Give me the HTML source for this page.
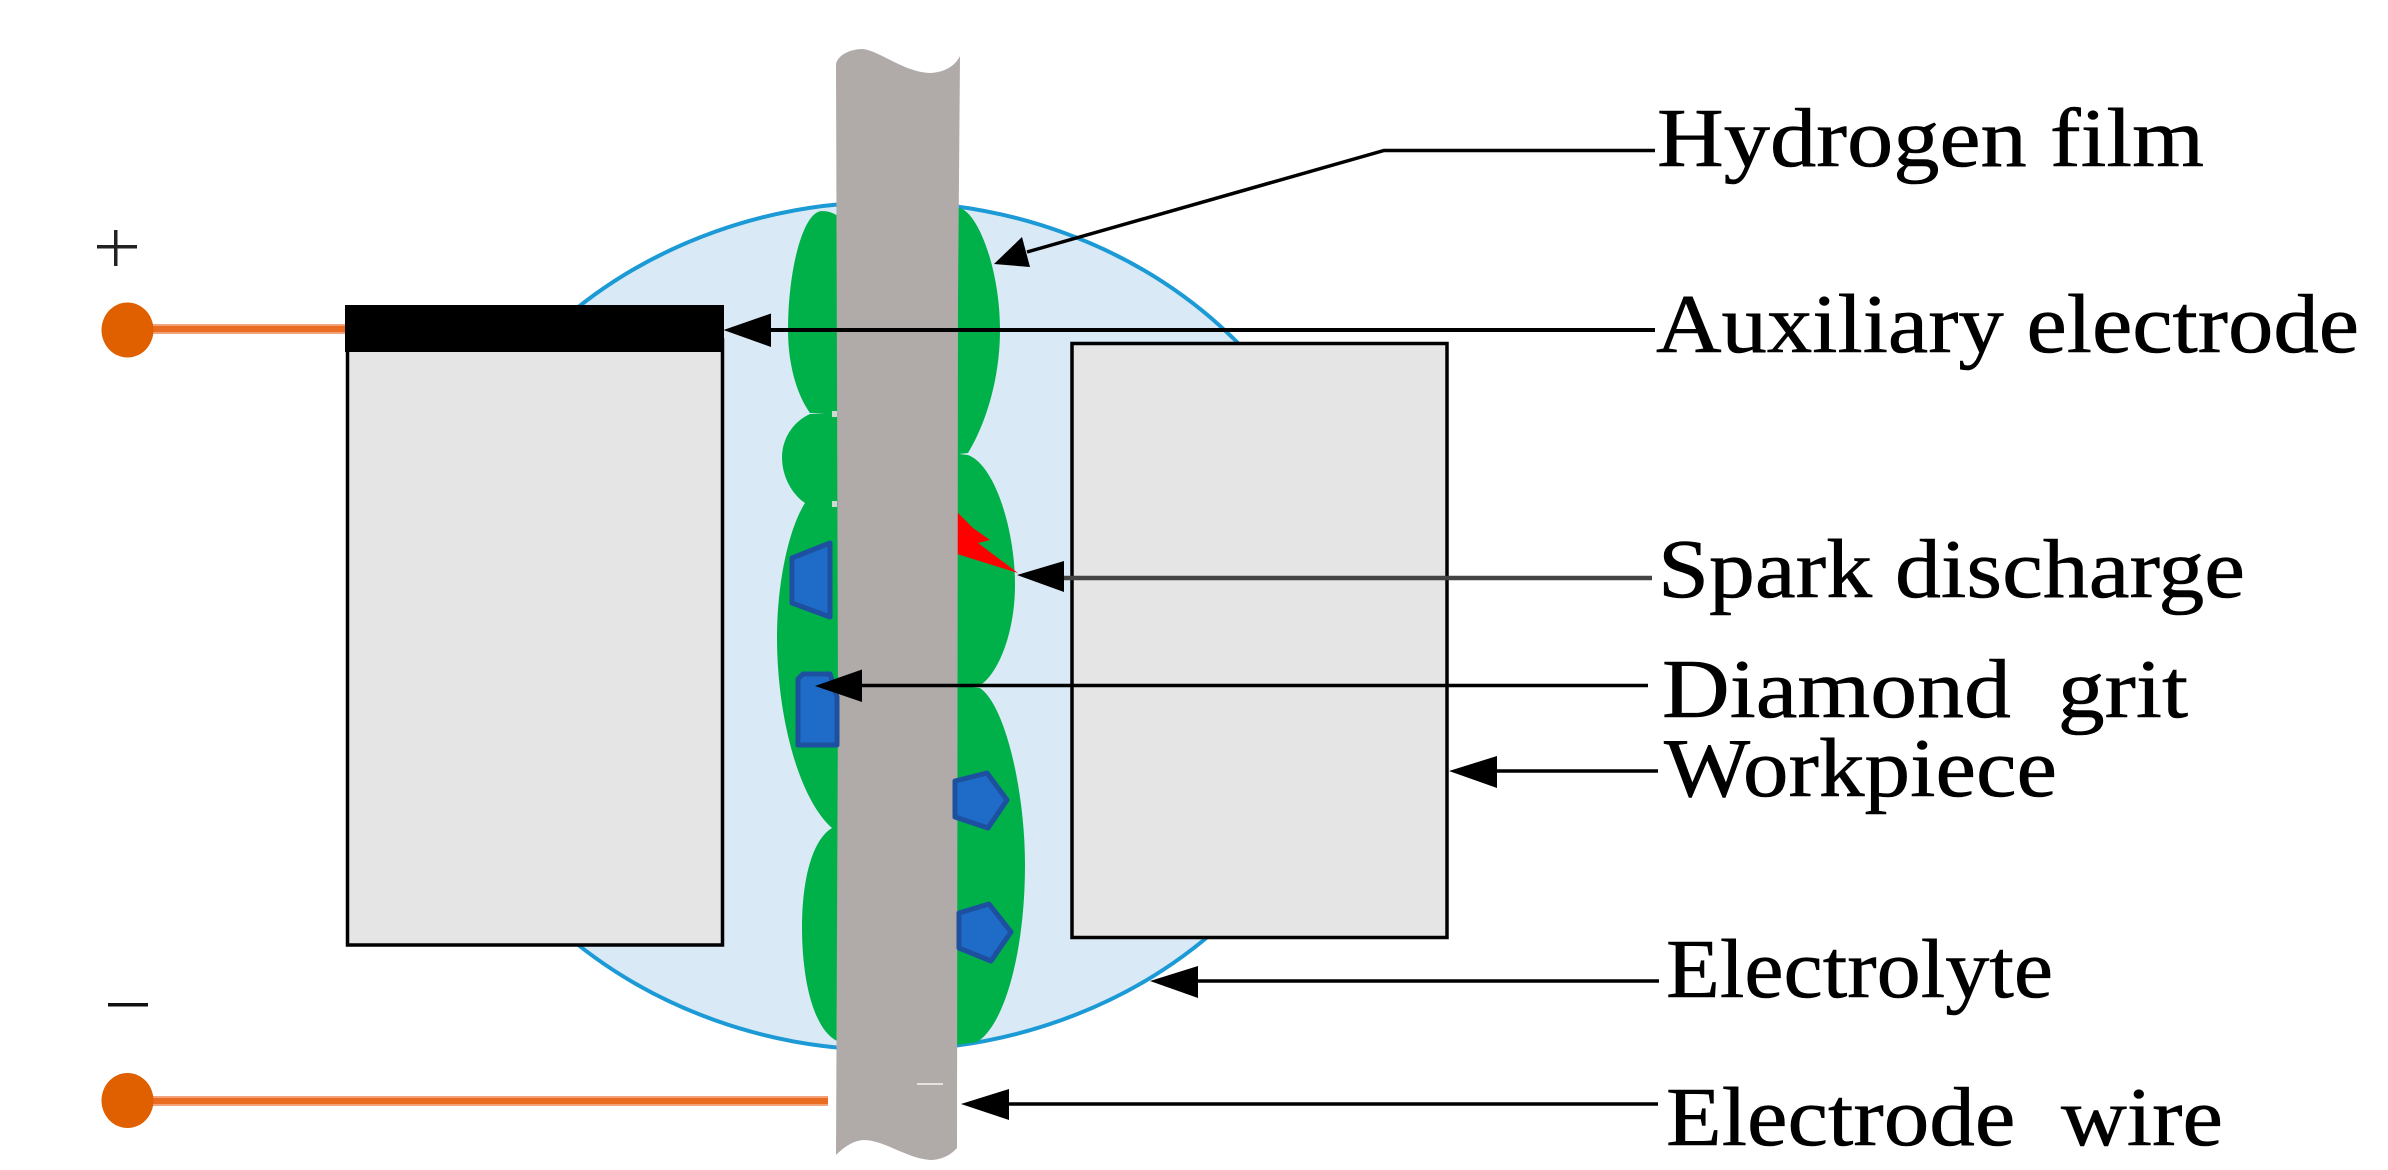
<!DOCTYPE html>
<html>
<head>
<meta charset="utf-8">
<style>
html,body{margin:0;padding:0;background:#fff;width:2388px;height:1170px;overflow:hidden}
svg{display:block}
text{font-family:"Liberation Serif",serif;font-size:84px;fill:#000;stroke:#000;stroke-width:.6px}
</style>
</head>
<body>
<svg width="2388" height="1170" viewBox="0 0 2388 1170" xmlns="http://www.w3.org/2000/svg">
<rect width="2388" height="1170" fill="#fff"/>

<!-- electrolyte -->
<ellipse cx="888" cy="626" rx="470" ry="424" fill="#d9e9f6" stroke="#1b9ad6" stroke-width="4"/>

<!-- hydrogen film -->
<g fill="#00b14a">
<path d="M840,218 C835,213 828,211 822,211 C803,211 788,270 788,330 C788,365 797,395 810,413 L840,413 Z"/>
<path d="M840,412 L810,414 C792,422 782,440 782,457 C782,478 793,495 805,503 L840,505 Z"/>
<path d="M840,503 L805,503 C788,530 777,585 777,637 C777,720 800,800 832,828 L840,828 Z"/>
<path d="M840,828 L832,828 C812,840 802,880 802,927 C802,985 815,1030 837,1041 L840,1041 Z"/>
<path d="M950,208 L957,208 C975,206 1000,265 1000,330 C1000,380 985,425 968,453 L950,455 Z"/>
<path d="M950,453 L968,455 C995,465 1015,530 1015,585 C1015,630 1000,670 982,684 L950,686 Z"/>
<path d="M950,684 L980,688 C1005,705 1025,790 1025,865 C1025,950 1005,1025 977,1042 L950,1046 Z"/>
</g>

<!-- spark -->
<polygon points="957,512 973,528 990,540 978,543 1018,573 957,554" fill="#ff0000"/>

<!-- diamond grit behind wire -->
<g fill="#1f6cc8" stroke="#1d509f" stroke-width="5" stroke-linejoin="round">
<polygon points="792,558 830,543 830,617 792,603"/>
</g>

<!-- wire -->
<path d="M836,64 C838,55 850,49 863,49 C880,51 905,73 931,73 C945,72 955,66 960,56 L958,300 L957,1148 C950,1156 940,1160 930,1160 C905,1158 885,1140 863,1140 C852,1141 843,1148 836,1155 L838,700 Z" fill="#b0aaa8"/>
<rect x="917" y="1083" width="26" height="2" fill="#e6e3e2"/>
<rect x="832" y="411" width="5" height="6" fill="#cfd9d2"/>
<rect x="832" y="501" width="5" height="6" fill="#cfd9d2"/>

<!-- diamond grit over wire -->
<g fill="#1f6cc8" stroke="#1d509f" stroke-width="5" stroke-linejoin="round">
<polygon points="798,679 803,674 830,674 837,697 837,745 798,745"/>
<polygon points="955,781 987,773 1007,800 988,828 955,817"/>
<path d="M959,913 L989,904 L1011,932 L991,961 L959,948 Z"/>
</g>

<!-- boxes -->
<rect x="347.500" y="340" width="375" height="605" fill="#e5e5e5" stroke="#000" stroke-width="3.500"/>
<rect x="345" y="305" width="379" height="47" fill="#000"/>
<rect x="1072" y="343.500" width="375" height="594" fill="#e5e5e5" stroke="#000" stroke-width="3.500"/>

<!-- terminals -->
<rect x="150" y="324" width="195" height="10" fill="#f2a27a"/>
<rect x="150" y="326" width="195" height="6" fill="#ea6c22"/>
<ellipse cx="127.500" cy="330" rx="26" ry="27.500" fill="#e06000"/>
<rect x="150" y="1096" width="678" height="10" fill="#f2a27a"/>
<rect x="150" y="1098" width="678" height="6" fill="#ea6c22"/>
<ellipse cx="127.500" cy="1100.500" rx="26" ry="27.500" fill="#e06000"/>

<!-- + and - -->
<rect x="97" y="245" width="40" height="3.500" fill="#222"/>
<rect x="114" y="230" width="3.500" height="36" fill="#222"/>
<rect x="108" y="1003" width="40" height="3.500" fill="#111"/>

<!-- leader lines -->
<g stroke="#000" stroke-width="3.500" fill="none">
<polyline points="1655,150.500 1384,150.500 1027,252"/>
<line x1="1655" y1="330" x2="765" y2="330" stroke-width="4"/>
<line x1="1652" y1="578" x2="1060" y2="578" stroke="#444" stroke-width="4.500"/>
<line x1="1648" y1="685.500" x2="858" y2="685.500"/>
<line x1="1658" y1="771" x2="1492" y2="771"/>
<line x1="1659" y1="981" x2="1192" y2="981"/>
<line x1="1658" y1="1104" x2="1004" y2="1104"/>
</g>

<!-- arrowheads -->
<g fill="#000">
<polygon points="994,264 1022,237 1030,267"/>
<polygon points="723.500,330 771,313.500 771,347"/>
<polygon points="1017,575 1064,561 1064,592"/>
<polygon points="815,686 862,669.500 862,702"/>
<polygon points="1449,771 1497,756 1497,788"/>
<polygon points="1150,981 1198,966 1198,998"/>
<polygon points="961,1104 1009,1089 1009,1120"/>
</g>

<!-- labels -->
<text x="1657" y="166" textLength="547" lengthAdjust="spacingAndGlyphs">Hydrogen film</text>
<text x="1656" y="352" textLength="703" lengthAdjust="spacingAndGlyphs">Auxiliary electrode</text>
<text x="1658" y="597" textLength="587" lengthAdjust="spacingAndGlyphs">Spark discharge</text>
<text x="1662" y="717" textLength="526" lengthAdjust="spacingAndGlyphs" xml:space="preserve">Diamond  grit</text>
<text x="1664" y="796" textLength="393" lengthAdjust="spacingAndGlyphs">Workpiece</text>
<text x="1666" y="997" textLength="387" lengthAdjust="spacingAndGlyphs">Electrolyte</text>
<text x="1666" y="1145" textLength="557" lengthAdjust="spacingAndGlyphs" xml:space="preserve">Electrode  wire</text>
</svg>
</body>
</html>
